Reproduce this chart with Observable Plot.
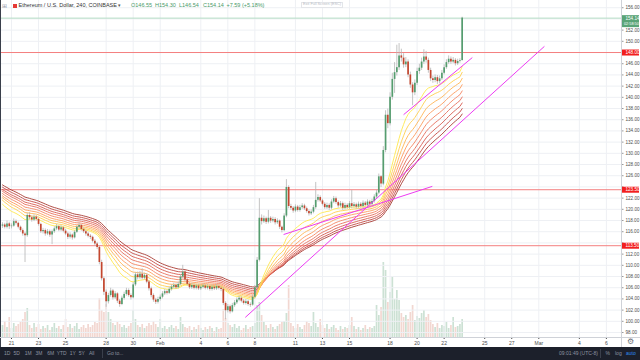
<!DOCTYPE html>
<html>
<head>
<meta charset="utf-8">
<script src="https://cdn.jsdelivr.net/npm/d3@7"></script>
<script src="https://cdn.jsdelivr.net/npm/@observablehq/plot@0.6"></script>
<style>
  html, body { margin:0; padding:0; background:#fff; }
  #wrap { position:relative; width:640px; height:360px; overflow:hidden; background:#fff; font-family:"Liberation Sans", Arial, sans-serif; }
  .layer { position:absolute; }
  .t { position:absolute; white-space:nowrap; line-height:1; }
  .bb { position:absolute; top:350.5px; font-size:5px; color:#8d93a0; white-space:nowrap; line-height:1; transform:translateX(-50%); }
</style>
</head>
<body>
<div id="wrap">
  <div id="vol" class="layer" style="left:0;top:237px;"></div>
  <div id="main" class="layer" style="left:0;top:0;"></div>
  <div id="paxis" class="layer" style="left:622px;top:0;"></div>
  <div class="layer" style="left:0;top:0;width:1px;height:347px;background:#3a3f4b;"></div>
  <div class="layer" style="left:0;top:337px;width:640px;height:1px;background:#cfd2d8;"></div>
  <div class="layer" style="left:621px;top:0;width:1px;height:347px;background:#cfd2d8;"></div>
  <div class="layer" style="left:0;top:347px;width:640px;height:13px;background:#1c202b;"></div>
  <div id="legend"></div>
  <div id="bottom"></div>
</div>
<script>
// ---------- data (4h candles, Coinbase ETH/USD) ----------
const firstCandle = "2019-01-20T08:00Z";
const lastCandle = "2019-02-23T08:00Z";

const opens = [
117.0,117.2,116.8,117.4,116.9,117.0,117.8,117.5,116.8,116.2,
115.6,115.3,118.9,118.5,118.1,118.6,118.2,117.3,116.0,116.2,
115.6,116.0,115.4,116.0,116.5,116.9,116.3,116.7,116.1,115.6,
115.0,115.4,114.9,115.9,116.8,117.1,116.4,116.0,115.6,115.2,
115.0,114.3,113.8,113.2,110.5,107.6,105.2,103.5,104.6,105.4,
104.2,104.9,103.6,103.0,104.1,104.8,105.5,104.6,104.2,106.5,
108.3,107.8,108.4,107.7,108.2,107.0,105.8,104.6,103.8,103.4,
103.9,104.3,104.9,105.3,105.0,105.7,106.1,106.4,106.0,106.6,
107.9,108.8,107.4,106.6,106.0,106.4,105.9,106.3,105.8,106.1,
106.3,105.9,106.2,105.7,106.1,105.8,106.2,105.9,105.7,103.2,
101.9,102.6,101.7,102.8,103.3,103.8,104.1,103.6,103.2,103.5,
103.0,102.9,104.3,106.0,110.9,118.4,117.8,118.3,117.7,118.4,
117.9,118.2,117.6,117.9,116.8,116.2,118.8,123.9,120.5,120.2,
119.7,120.4,119.8,120.3,120.6,120.1,119.6,119.2,119.5,120.3,
121.6,122.1,121.5,120.9,120.3,120.7,120.2,121.3,121.9,121.2,
120.6,121.0,120.2,120.7,120.3,121.0,120.5,120.8,120.4,120.9,
120.5,121.1,120.7,121.3,120.9,121.4,122.2,122.9,125.8,124.5,
130.5,136.8,135.3,140.0,143.2,144.4,145.3,147.4,147.0,145.8,
146.3,144.0,142.2,140.8,142.5,144.6,145.2,146.3,147.2,146.6,
144.8,143.3,143.0,143.5,142.8,143.3,144.3,145.3,146.2,146.8,
146.3,146.6,146.0,146.4,146.55];

const highs = [
117.6,117.5,117.9,117.7,117.4,118.3,118.1,117.7,117.0,116.5,
115.9,119.3,119.4,118.8,119.0,118.9,118.4,117.5,116.6,116.5,
116.4,116.3,116.3,116.9,117.3,117.1,117.1,116.9,116.4,115.9,
115.8,115.6,116.2,117.1,117.6,117.3,116.7,116.3,115.9,115.5,
115.2,114.6,114.1,113.5,110.9,107.9,105.6,105.0,105.9,105.7,
105.3,105.1,103.9,104.5,105.2,105.9,105.8,104.9,106.9,108.7,
108.8,108.9,109.4,108.6,108.5,107.3,106.1,104.9,104.1,104.3,
104.7,105.3,105.7,105.6,106.1,106.5,106.8,106.7,107.0,108.3,
110.0,109.0,107.6,106.9,106.8,106.7,106.6,106.6,106.5,106.7,
106.6,106.6,106.5,106.5,106.4,106.6,106.5,106.2,106.0,103.5,
103.0,102.9,103.2,103.7,104.2,104.5,104.4,103.9,103.9,103.8,
103.3,104.7,106.4,111.4,121.9,119.0,118.8,118.6,119.8,118.7,
118.6,118.5,118.3,118.1,117.0,119.2,125.3,124.2,120.9,120.5,
120.8,120.7,120.7,121.0,120.9,120.4,119.9,119.9,120.7,124.8,
122.6,122.4,121.8,121.2,121.1,121.0,121.7,122.3,122.2,121.5,
121.4,121.3,121.1,121.0,121.4,123.4,121.2,121.1,121.3,121.2,
121.5,121.4,121.7,121.6,121.8,122.6,123.4,126.3,126.0,131.2,
137.6,137.9,140.8,144.3,146.2,149.3,149.6,148.6,147.8,147.1,
146.7,144.5,142.6,143.1,145.2,145.9,147.0,148.5,148.2,147.0,
145.2,143.8,144.0,143.9,143.8,144.8,145.8,146.7,147.4,147.2,
147.1,146.9,146.8,146.9,154.30];

const lows = [
116.6,116.5,116.5,116.4,116.5,116.8,117.2,116.5,115.9,115.2,
110.5,115.0,118.1,117.7,117.8,117.9,117.0,115.7,115.6,115.2,
115.3,115.0,113.7,115.7,116.2,116.0,116.0,115.8,115.3,114.6,
114.7,114.5,114.7,115.7,116.5,116.1,115.7,115.2,114.9,114.6,
114.0,113.4,112.8,110.1,107.2,104.6,102.5,103.1,104.3,103.8,
103.9,103.2,102.5,102.8,103.8,104.5,104.3,103.8,104.0,106.2,
107.4,107.5,107.4,107.4,106.7,105.4,104.2,103.4,103.0,103.1,
103.6,104.0,104.6,104.7,104.8,105.4,105.8,105.7,105.8,106.4,
107.6,107.1,106.3,105.7,105.7,105.6,105.6,105.5,105.5,105.8,
105.6,105.6,105.4,105.4,105.5,105.5,105.6,105.3,102.8,100.3,
101.5,101.3,101.5,102.5,103.0,103.5,103.3,102.9,102.9,102.7,
102.5,102.7,104.0,105.8,110.6,117.2,117.5,117.3,117.4,117.5,
117.6,117.2,117.3,116.4,115.8,116.0,118.5,120.1,119.8,119.3,
119.4,119.5,119.5,120.0,119.8,119.3,118.8,118.9,119.2,120.0,
121.3,121.2,120.6,120.0,120.0,119.8,119.9,121.0,120.9,120.2,
120.3,119.8,119.9,120.0,120.0,120.1,120.2,120.0,120.1,120.2,
120.2,120.4,120.4,120.6,120.6,121.1,121.9,122.6,123.9,124.2,
130.1,134.4,134.9,139.5,140.7,143.8,144.8,146.3,145.2,145.3,
143.5,141.6,138.5,140.3,142.1,144.1,144.8,145.9,146.1,144.3,
142.8,142.5,142.6,142.3,142.4,143.0,144.0,145.0,145.9,145.9,
146.0,145.6,145.7,146.1,146.54];

const closes = [
117.2,116.8,117.4,116.9,117.0,117.8,117.5,116.8,116.2,115.6,
115.3,118.9,118.5,118.1,118.6,118.2,117.3,116.0,116.2,115.6,
116.0,115.4,116.0,116.5,116.9,116.3,116.7,116.1,115.6,115.0,
115.4,114.9,115.9,116.8,117.1,116.4,116.0,115.6,115.2,115.0,
114.3,113.8,113.2,110.5,107.6,105.2,103.5,104.6,105.4,104.2,
104.9,103.6,103.0,104.1,104.8,105.5,104.6,104.2,106.5,108.3,
107.8,108.4,107.7,108.2,107.0,105.8,104.6,103.8,103.4,103.9,
104.3,104.9,105.3,105.0,105.7,106.1,106.4,106.0,106.6,107.9,
108.8,107.4,106.6,106.0,106.4,105.9,106.3,105.8,106.1,106.3,
105.9,106.2,105.7,106.1,105.8,106.2,105.9,105.7,103.2,101.9,
102.6,101.7,102.8,103.3,103.8,104.1,103.6,103.2,103.5,103.0,
102.9,104.3,106.0,110.9,118.4,117.8,118.3,117.7,118.4,117.9,
118.2,117.6,117.9,116.8,116.2,118.8,123.9,120.5,120.2,119.7,
120.4,119.8,120.3,120.6,120.1,119.6,119.2,119.5,120.3,121.6,
122.1,121.5,120.9,120.3,120.7,120.2,121.3,121.9,121.2,120.6,
121.0,120.2,120.7,120.3,121.0,120.5,120.8,120.4,120.9,120.5,
121.1,120.7,121.3,120.9,121.4,122.2,122.9,125.8,124.5,130.5,
136.8,135.3,140.0,143.2,144.4,145.3,147.4,147.0,145.8,146.3,
144.0,142.2,140.8,142.5,144.6,145.2,146.3,147.2,146.6,144.8,
143.3,143.0,143.5,142.8,143.3,144.3,145.3,146.2,146.8,146.3,
146.6,146.0,146.4,146.55,154.14];

const volumes = [
12,16,10,20,9,14,11,13,15,18,
25,29,12,9,14,10,13,8,11,9,
12,7,10,14,9,11,8,12,18,10,
13,9,11,14,8,10,12,9,13,10,
12,15,14,39,27,25,33,25,18,14,
12,15,13,10,12,9,11,14,27,18,
12,10,13,9,11,14,12,16,13,10,
18,9,11,8,10,12,9,11,8,20,
13,10,9,11,7,10,8,12,9,7,
10,8,11,9,6,10,8,9,28,19,
14,12,10,13,9,11,7,9,12,8,
10,11,14,32,35,22,15,12,9,13,
10,8,11,13,15,16,24,52,14,11,
9,13,10,8,12,16,14,11,25,14,
10,18,12,9,13,8,10,12,9,7,
11,8,10,9,12,20,11,8,10,7,
9,12,8,10,9,11,32,22,30,75,
67,35,45,60,38,47,37,24,20,22,
18,25,32,17,21,19,24,27,20,23,
17,13,10,14,9,12,11,15,9,12,
20,10,11,13,18];

// horizontal levels drawn on the chart
const levels = [148.0, 123.5, 113.5];
const countdown = "02:58:50";

// magenta trend lines
const trendStart = ["2019-02-07T07:00Z", "2019-02-10T03:00Z", "2019-02-19T00:00Z"];
const trendStartPrice = [100.7, 115.5, 136.9];
const trendEnd = ["2019-03-01T10:00Z", "2019-02-21T03:00Z", "2019-02-24T02:00Z"];
const trendEndPrice = [149.1, 124.1, 147.1];

// EMA ribbon: periods (fast -> slow), values read at the left edge, colours
const ribbonPeriods = [20, 25, 30, 35, 40, 45, 50, 55, 60];
const ribbonStart = [121.3, 122.0, 122.4, 122.7, 123.1, 123.5, 123.8, 124.2, 124.6];
const ribbonColors = ["#ffe94f","#ffcf50","#ffb556","#fd9c5e","#f48462","#e76e5b","#d75b50","#c44a44","#a83b33"];

// axis ticks
const tickDates = ["2019-01-21","2019-01-23","2019-01-25","2019-01-28","2019-01-30","2019-02-01","2019-02-04","2019-02-06","2019-02-08","2019-02-11","2019-02-13","2019-02-15","2019-02-18","2019-02-20","2019-02-22","2019-02-25","2019-02-27","2019-03-01","2019-03-04","2019-03-06"];
const tickLabels = ["21","23","25","28","30","Feb","4","6","8","11","13","15","18","20","22","25","27","Mar","4","6"];
const priceTicks = d3.range(98, 157, 2);

// ---------- build ----------
const times = d3.utcHour.every(4).range(new Date(firstCandle), new Date(new Date(lastCandle).getTime() + 1));
const data = closes.map((c, i) => ({
  date: times[i], open: opens[i], high: highs[i], low: lows[i], close: c,
  volume: volumes[i], up: c >= opens[i]
}));
const trends = trendStart.map((s, i) => ({x1: new Date(s), y1: trendStartPrice[i], x2: new Date(trendEnd[i]), y2: trendEndPrice[i]}));
const ticks = tickDates.map(d => new Date(d + "T00:00Z"));
const labelMap = new Map(ticks.map((d, i) => [+d, tickLabels[i]]));

// exponential moving average reducer for Plot's window transform
const ema = (N, start) => values => {
  const a = 2 / (N + 1);
  let e = start;
  for (let i = 0; i < values.length; i++) e = a * values[i] + (1 - a) * e;
  return e;
};

const xDomain = [new Date("2019-01-20T04:28Z"), new Date("2019-03-07T04:36Z")];
const yDomain = [97.11, 157.29];
const upColor = "#559d6f", downColor = "#c4472f";
const font = "'Liberation Sans', Arial, sans-serif";

const last = data[data.length - 1];

const mainPlot = Plot.plot({
  width: 622, height: 347,
  marginTop: 0, marginRight: 0, marginBottom: 10, marginLeft: 0,
  style: {background: "transparent", fontFamily: font, fontSize: "5px", color: "#4d4d4d", overflow: "visible"},
  x: {type: "utc", domain: xDomain, ticks: ticks, tickFormat: d => labelMap.get(+d) ?? "", tickSize: 2, tickPadding: 1.5, label: null},
  y: {domain: yDomain, axis: null},
  marks: [
    Plot.ruleY(priceTicks, {stroke: "#eef0f4", strokeWidth: 1}),
    Plot.ruleX(ticks, {stroke: "#eef0f4", strokeWidth: 1}),
    Plot.ruleY([last.close], {stroke: "#b4dcc4", strokeWidth: 1}),
    Plot.ruleY(levels, {stroke: "#f47f7f", strokeWidth: 1}),
    ...ribbonPeriods.map((N, j) => Plot.lineY(data, Plot.windowY({k: data.length, anchor: "end", reduce: ema(N, ribbonStart[j])}, {x: "date", y: "close", stroke: ribbonColors[j], strokeWidth: 0.9}))).reverse(),
    Plot.ruleX(data, {x: "date", y1: "low", y2: "high", stroke: "#b5b5b5", strokeWidth: 0.8}),
    Plot.ruleX(data, {x: "date", y1: "open", y2: "close", stroke: d => d.up ? upColor : downColor, strokeWidth: 1.7}),
    Plot.link(trends, {x1: "x1", y1: "y1", x2: "x2", y2: "y2", stroke: "#ec3cf2", strokeWidth: 1})
  ]
});
document.getElementById("main").appendChild(mainPlot);

const volPlot = Plot.plot({
  width: 622, height: 100, margin: 0,
  style: {background: "transparent"},
  x: {type: "utc", domain: xDomain, axis: null},
  y: {domain: [0, 100], axis: null},
  marks: [
    Plot.ruleX(data, {x: "date", y: "volume", stroke: d => d.up ? upColor : downColor, strokeOpacity: d => d.up ? 0.3 : 0.22, strokeWidth: 1.7})
  ]
});
document.getElementById("vol").appendChild(volPlot);

const fmt = d3.format(".2f");
const boxed = [...levels, last.close];
const labelTicks = priceTicks.filter(p => !boxed.some(b => Math.abs(b - p) < 0.9));
const axisPlot = Plot.plot({
  width: 18, height: 337, margin: 0,
  style: {background: "transparent", fontFamily: font, fontSize: "4.6px", overflow: "visible"},
  x: {domain: [0, 1], axis: null},
  y: {domain: yDomain, axis: null},
  marks: [
    Plot.ruleY(priceTicks, {stroke: "#9a9a9a", insetRight: 16.5}),
    Plot.text(labelTicks, {y: d => d, text: d => fmt(d), frameAnchor: "left", textAnchor: "start", dx: 3, fill: "#4d4d4d"}),
    Plot.ruleY(levels, {stroke: "#f21f1f", strokeWidth: 6, insetRight: 1}),
    Plot.text(levels, {y: d => d, text: d => fmt(d), frameAnchor: "left", textAnchor: "start", dx: 3, fill: "#fff"}),
    Plot.ruleY([last.close], {stroke: "#5aa477", strokeWidth: 12, dy: 3, insetRight: 1}),
    Plot.text([last.close], {y: d => d, text: d => fmt(d), frameAnchor: "left", textAnchor: "start", dx: 3, fill: "#fff"}),
    Plot.text([last.close], {y: d => d, text: () => countdown, frameAnchor: "left", textAnchor: "start", dx: 1.5, dy: 6, fill: "#fff", fontSize: 3.8})
  ]
});
document.getElementById("paxis").appendChild(axisPlot);

// ---------- legend (top) ----------
const chg = last.close - data[data.length - 2].close;
const legend = document.getElementById("legend");
function addText(parent, txt, left, top, size, color, extra) {
  const s = document.createElement("div");
  s.className = "t";
  s.textContent = txt;
  s.style.left = left + "px"; s.style.top = top + "px";
  s.style.fontSize = size + "px"; s.style.color = color;
  if (extra) Object.assign(s.style, extra);
  parent.appendChild(s);
  return s;
}
addText(legend, "⊞", 2, 2.5, 6, "#9aa0aa");
const sq = document.createElement("div");
Object.assign(sq.style, {position: "absolute", left: "13px", top: "4px", width: "4px", height: "4px", background: "#e53935"});
legend.appendChild(sq);
addText(legend, "Ethereum / U.S. Dollar, 240, COINBASE", 18.5, 3.3, 5.5, "#333");
addText(legend, "▾", 117.5, 3.3, 5, "#555");
const green = "#4a9a69";
addText(legend, "O" + fmt(last.open), 131, 3.3, 5.5, green);
addText(legend, "H" + fmt(last.high), 155, 3.3, 5.5, green);
addText(legend, "L" + fmt(last.low), 179, 3.3, 5.5, green);
addText(legend, "C" + fmt(last.close), 203, 3.3, 5.5, green);
addText(legend, "+" + fmt(chg) + " (+" + fmt(chg / data[data.length - 2].close * 100) + "%)", 226.5, 3.3, 5.5, green);
addText(legend, "Exit Full Screen (ESC)", 301, 1.5, 3.8, "#b8bcc4", {border: "0.5px solid #e3e5e9", padding: "0.6px 1px", background: "#fff"});

// ---------- bottom toolbar ----------
const bottom = document.getElementById("bottom");
const ranges = ["1D","5D","1M","3M","6M","YTD","1Y","5Y","All"];
const rangeX = [7.3, 16.7, 28.3, 39, 50.7, 61.7, 72.7, 81.7, 91.7];
ranges.forEach((r, i) => {
  const s = document.createElement("div");
  s.className = "bb"; s.textContent = r; s.style.left = rangeX[i] + "px";
  bottom.appendChild(s);
});
const sep1 = document.createElement("div");
Object.assign(sep1.style, {position: "absolute", left: "101.5px", top: "349px", width: "0.6px", height: "9px", background: "#3a3f4b"});
bottom.appendChild(sep1);
addText(bottom, "Go to...", 107, 350.5, 5, "#8d93a0");
addText(bottom, "09:01:49 (UTC-8)", 559, 350.5, 5, "#8d93a0");
const sep2 = sep1.cloneNode(); sep2.style.left = "600px"; bottom.appendChild(sep2);
addText(bottom, "%", 605.5, 350.5, 5, "#8d93a0");
addText(bottom, "log", 615, 350.5, 5, "#8d93a0");
addText(bottom, "auto", 626, 350.5, 5, "#2d8cf0");
addText(bottom, "⚙", 626.5, 338.3, 7.5, "#6d717a");
</script>
</body>
</html>
